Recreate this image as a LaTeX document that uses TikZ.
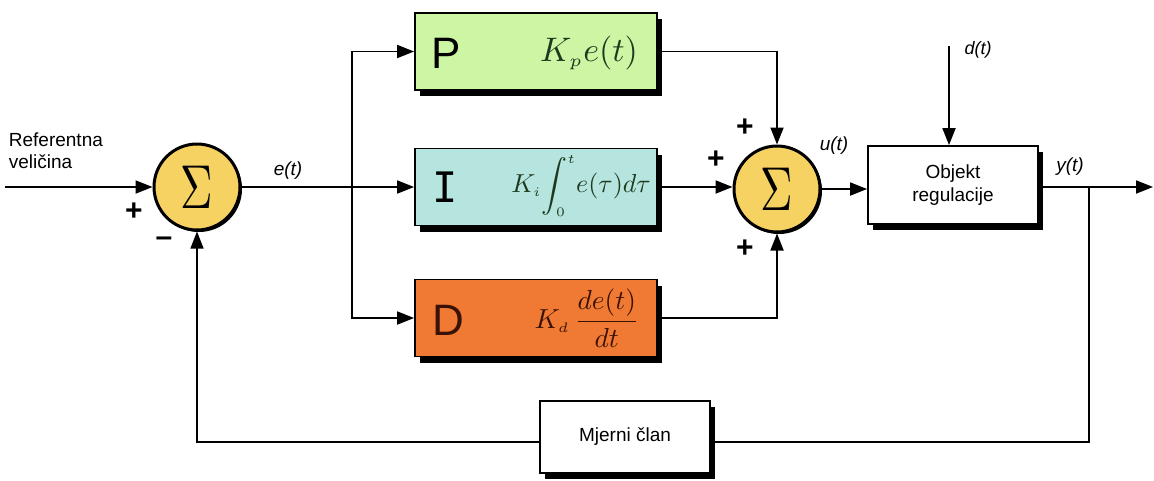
\documentclass[tikz,border=0pt]{standalone}
\usepackage{amsmath}
\usepackage{fontspec}
\setsansfont{Liberation Sans}
\newfontfamily\monoI{DejaVu Sans Mono}
\usetikzlibrary{arrows.meta,shadows}
\definecolor{pgreen}{HTML}{CCF5A4}
\definecolor{icyan}{HTML}{B6E4DE}
\definecolor{dorange}{HTML}{F07A34}
\definecolor{sumyel}{HTML}{F6D263}
\definecolor{dbrown}{HTML}{3A1205}
\definecolor{dgreen}{HTML}{1E3A1E}
\begin{document}
\begin{tikzpicture}[x=1pt,y=-1pt,line width=1.8pt,
  >={Triangle[length=17pt,width=13pt]},
  font=\sffamily\fontsize{19}{22}\selectfont]
\useasboundingbox[fill=white] (0,0) rectangle (1154,480);
\tikzset{
  blk/.style={draw,line width=1.8pt,inner sep=0pt,
    drop shadow={shadow xshift=5pt,shadow yshift=-6pt,opacity=1,fill=black}},
  pidbox/.style={blk,minimum width=242pt,minimum height=77pt},
  sumc/.style={circle,draw,fill=sumyel,minimum size=86pt,inner sep=0pt,line width=3pt,
    drop shadow={shadow xshift=2pt,shadow yshift=-2pt,opacity=1,fill=black}},
  mathtxt/.style={font=\fontsize{10}{12}\selectfont,inner sep=0pt},
  lbl/.style={font=\sffamily\itshape\fontsize{19}{22}\selectfont},
  sgn/.style={font=\sffamily\bfseries\fontsize{30}{30}\selectfont},
  letter/.style={font=\sffamily\fontsize{44}{44}\selectfont}
}
% summing junctions
\node[sumc] (s1) at (197,187) {};
\node[mathtxt] (s1t) at (s1) {\scalebox{4.5}[6.2]{$\Sigma$}};
\node[sumc] (s2) at (777,189) {};
\node[mathtxt] (s2t) at (s2) {\scalebox{4.5}[6.2]{$\Sigma$}};
% PID blocks
\node[pidbox,fill=pgreen] (P) at (536,51.5) {};
\node[pidbox,fill=icyan] (I) at (536,187) {};
\node[pidbox,fill=dorange] (D) at (536,318) {};
\node[letter,text=black] (Pl) at (446,53) {P};
\node[letter,text=black,font=\monoI\fontsize{42}{42}\selectfont] (Il) at (445,187) {I};
\node[letter,text=dbrown] (Dl) at (448,320) {D};
\node[mathtxt,text=dgreen] (Pf) at (589,53) {\scalebox{3.4}{$K_{\scriptscriptstyle p}e(t)$}};
\node[mathtxt,text=dgreen] (If) at (581,186) {\scalebox{2.6}{$K_{\scriptscriptstyle i}\!\displaystyle\int_{\scriptscriptstyle 0}^{\scriptscriptstyle t}\! e(\tau)d\tau$}};
\node[mathtxt,text=dbrown] (Df) at (587,318) {\scalebox{2.75}{$K_{\scriptscriptstyle d}\,\dfrac{de(t)}{dt}$}};
% plant and sensor
\node[blk,fill=white,minimum width=170pt,minimum height=78pt,align=center] (O) at (953,185) {Objekt\\[1pt]regulacije};
\node[blk,fill=white,minimum width=170pt,minimum height=72pt] (M) at (625,437) {Mjerni član};
% coordinates
\coordinate (in) at (5,187);
\coordinate (br) at (352,187);
\coordinate (dt) at (949,46);
\coordinate (out) at (1153,187);
\coordinate (fb) at (1089,187);
\coordinate (fby) at (0,442);
% texts
\node[anchor=north west,align=left,inner sep=0pt] (ref) at (8,132) {Referentna\\veličina};
\node[sgn] (p1) at (134,212) {+};
\node[sgn] (m1) at (164,242) {–};
\node[lbl] (et) at (288,171) {e(t)};
\node[sgn] (p2) at (745,128) {+};
\node[sgn] (p3) at (716,160) {+};
\node[sgn] (p4) at (745,249) {+};
\node[lbl] (ut) at (834,146) {u(t)};
\node[lbl] (yt) at (1070,167) {y(t)};
\node[lbl,font=\sffamily\itshape\fontsize{18}{20}\selectfont] (dtl) at (978,50) {d(t)};
% connectors
\draw[->] (in) -- (s1.west);
\draw (s1.east) -- (br);
\draw[->] (br) -- (I.west);
\draw[->] (br) |- (P.west);
\draw[->] (br) |- (D.west);
\draw[->] (P.east) -| (s2.north);
\draw[->] (I.east) -- (s2.west |- I.east);
\draw[->] (D.east) -| (s2.south);
\draw[->] (s2.east) -- (O.west |- s2.east);
\draw[->] (dt) -- (O.north -| dt);
\draw[->] (O.east |- out) -- (out);
\draw[line width=1.3pt] (fb) |- (M.east |- fby);
\draw[->,line width=1.3pt] (M.west |- fby) -| (s1.south);
\end{tikzpicture}
\end{document}
